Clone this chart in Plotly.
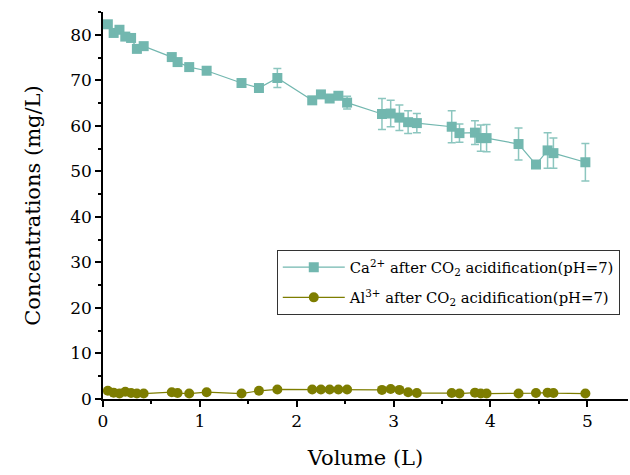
import plotly.graph_objects as go

# Cumulative volume (L) at each sampling point
volume = [0.05, 0.11, 0.17, 0.23, 0.29, 0.35, 0.42, 0.71, 0.77, 0.89,
          1.07, 1.43, 1.61, 1.80, 2.16, 2.25, 2.34, 2.43, 2.52, 2.88,
          2.97, 3.06, 3.15, 3.24, 3.60, 3.68, 3.84, 3.90, 3.96, 4.29,
          4.47, 4.59, 4.65, 4.98]

# Ca2+ concentration (mg/L) and its standard deviation
ca_conc = [82.3, 80.4, 81.1, 79.6, 79.3, 76.9, 77.5, 75.1, 74.0, 72.9,
           72.1, 69.4, 68.3, 70.5, 65.6, 66.9, 66.0, 66.6, 65.1, 62.6,
           62.7, 61.8, 60.8, 60.6, 59.8, 58.4, 58.5, 57.3, 57.3, 56.0,
           51.5, 54.6, 54.0, 52.0]
ca_err = [0.4, 0.4, 0.4, 0.4, 0.4, 0.4, 0.4, 0.4, 0.4, 0.4,
          0.4, 0.4, 0.4, 2.1, 0.5, 0.5, 0.5, 0.5, 1.4, 3.4,
          2.9, 2.8, 2.5, 2.1, 3.5, 2.0, 2.6, 2.9, 3.0, 3.5,
          0.5, 3.9, 3.3, 4.1]

# Al3+ concentration (mg/L)
al_conc = [1.8, 1.4, 1.2, 1.6, 1.3, 1.2, 1.2, 1.5, 1.3, 1.2,
           1.5, 1.2, 1.8, 2.1, 2.1, 2.1, 2.1, 2.1, 2.1, 2.0,
           2.2, 2.0, 1.5, 1.3, 1.3, 1.2, 1.4, 1.2, 1.2, 1.2,
           1.3, 1.4, 1.3, 1.2]

ca_name = "Ca<sup>2+</sup> after CO<sub>2</sub> acidification(pH=7)"
al_name = "Al<sup>3+</sup> after CO<sub>2</sub> acidification(pH=7)"

CA_COLOR = "#72b7af"
AL_COLOR = "#7d7d00"
SERIF = dict(family="DejaVu Serif", color="black")

fig = go.Figure()

fig.add_trace(go.Scatter(
    x=volume, y=ca_conc, name=ca_name, mode="lines+markers",
    legendgroup="ca",
    line=dict(color=CA_COLOR, width=1.2),
    marker=dict(symbol="square", size=10, color=CA_COLOR),
    error_y=dict(type="data", array=ca_err, visible=True,
                 color="#8cc6bf", thickness=1.5, width=4),
))

fig.add_trace(go.Scatter(
    x=volume, y=al_conc, name=al_name, mode="lines+markers",
    legendgroup="al",
    line=dict(color=AL_COLOR, width=1.2),
    marker=dict(symbol="circle", size=10, color=AL_COLOR),
))

fig.update_layout(
    width=630, height=475,
    margin=dict(l=103, r=2, t=12, b=76),
    plot_bgcolor="white", paper_bgcolor="white",
    font=dict(SERIF, size=17),
    showlegend=True,
    legend=dict(
        x=0.331, y=0.385, xanchor="left", yanchor="top",
        bordercolor="#333333", borderwidth=1, bgcolor="white",
        font=dict(SERIF, size=14.8),
        itemwidth=62, tracegroupgap=8,
    ),
)

fig.update_xaxes(
    range=[0, 5.42], showgrid=False, zeroline=False,
    showline=True, linecolor="black", linewidth=1.5,
    ticks="outside", ticklen=6, tickwidth=1.5, tickcolor="black",
    dtick=1, tick0=0,
    tickfont=dict(SERIF, size=17),
    minor=dict(dtick=0.5, ticks="outside", ticklen=3, tickwidth=1.5, tickcolor="black"),
    title=dict(text="Volume (L)", font=dict(SERIF, size=21), standoff=20),
)

fig.update_yaxes(
    range=[0, 85], showgrid=False, zeroline=False,
    showline=True, linecolor="black", linewidth=1.5,
    ticks="outside", ticklen=6, tickwidth=1.5, tickcolor="black",
    dtick=10, tick0=0,
    tickfont=dict(SERIF, size=17),
    minor=dict(dtick=5, ticks="outside", ticklen=3, tickwidth=1.5, tickcolor="black"),
    title=dict(text="Concentrations (mg/L)", font=dict(SERIF, size=21), standoff=24),
)

fig.write_html("out.html")
